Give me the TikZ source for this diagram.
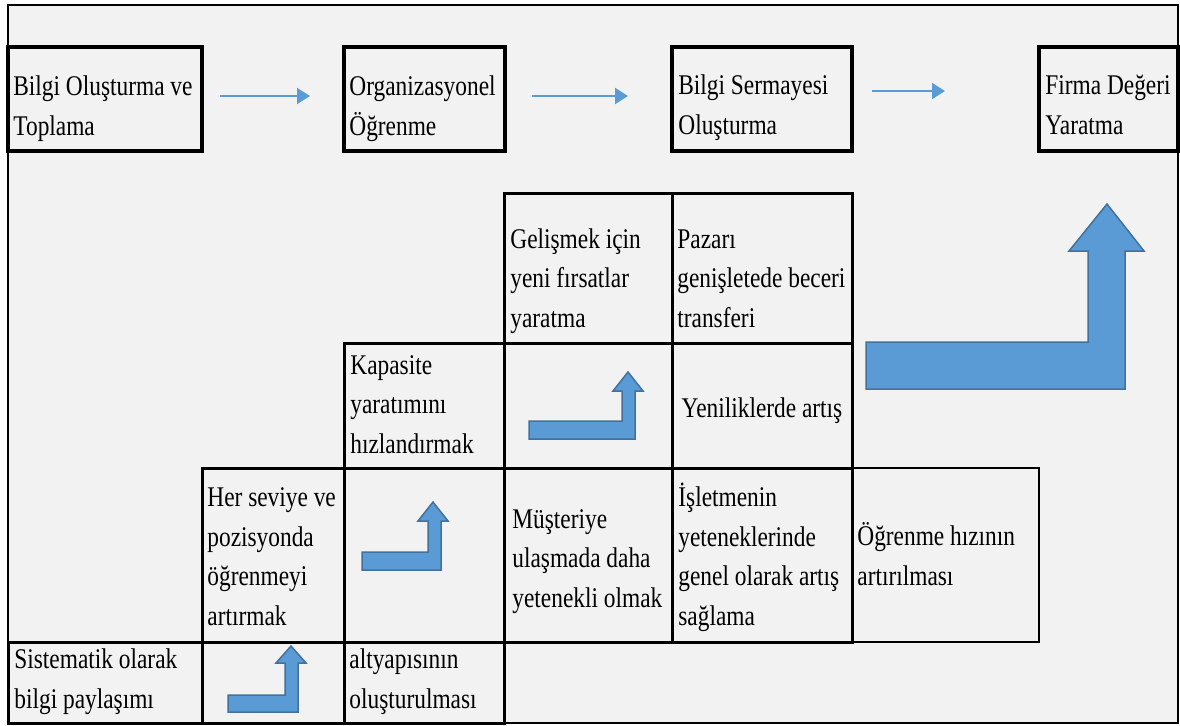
\documentclass[tikz,border=0pt]{standalone}
\usepackage{fontspec}
\setmainfont{Liberation Serif}[FakeStretch=0.82]
\usetikzlibrary{arrows.meta}
\definecolor{panelgray}{HTML}{F2F2F2}
\definecolor{officeblue}{HTML}{5B9BD5}
\definecolor{officeedge}{HTML}{41719C}

\begin{document}
\begin{tikzpicture}[
    x=0.5pt,y=-0.5pt,
    stage_box/.style={draw=black,line width=2pt},
    grid_cell/.style={draw=black,line width=1.5pt},
    thin_cell/.style={draw=black,line width=1.25pt},
    cell_text/.style={anchor=base west,align=left,inner sep=0pt,text=black,
      font=\fontsize{14.25pt}{19.75pt}\selectfont},
    flow_arrow/.style={officeblue,line width=1pt,-{Triangle[length=6.5pt,width=8pt]}},
    bent_arrow/.style={fill=officeblue,draw=officeedge,line width=0.75pt,line join=miter}]
  \useasboundingbox (0,0) rectangle (1180,725);
  \fill[white] (0,0) rectangle (1180,725);
  \draw[line width=1pt,fill=panelgray] (8,5) rectangle (1178,723);
  % top row of stages
  \draw[stage_box] (8,47) rectangle (202,151);
  \draw[stage_box] (344,47) rectangle (505,151);
  \draw[stage_box] (672,47) rectangle (852,151);
  \draw[stage_box] (1039,47) rectangle (1178,151);
  % staircase grid
  \draw[grid_cell] (504,193) rectangle (672,343);
  \draw[grid_cell] (672,193) rectangle (852,343);
  \draw[grid_cell] (344,343) rectangle (504,468);
  \draw[grid_cell] (504,343) rectangle (672,468);
  \draw[grid_cell] (672,343) rectangle (852,468);
  \draw[grid_cell] (202,468) rectangle (344,642);
  \draw[grid_cell] (344,468) rectangle (504,642);
  \draw[grid_cell] (504,468) rectangle (672,642);
  \draw[grid_cell] (672,468) rectangle (852,642);
  \draw[thin_cell] (852,468) rectangle (1039,642);
  \draw[grid_cell] (8,642) rectangle (202,723);
  \draw[grid_cell] (202,642) rectangle (344,723);
  \draw[grid_cell] (344,642) rectangle (504,723);
  % bent arrows
  \draw[bent_arrow] (228,695) -- (285,695) -- (285,663) -- (276,663) -- (291,646)
    -- (306,663) -- (298,663) -- (298,712) -- (228,712) -- cycle;
  \draw[bent_arrow] (362,552) -- (428,552) -- (428,521) -- (418,521) -- (433,502)
    -- (448,521) -- (441,521) -- (441,570) -- (362,570) -- cycle;
  \draw[bent_arrow] (529,421) -- (622,421) -- (622,391) -- (613,391) -- (628,372)
    -- (643,391) -- (635,391) -- (635,439) -- (529,439) -- cycle;
  \draw[bent_arrow] (866,342) -- (1088,342) -- (1088,251) -- (1069,251) -- (1107,204)
    -- (1144,251) -- (1125,251) -- (1125,389) -- (866,389) -- cycle;
  % texts (placed at the baseline of their last line)
\node[cell_text] (stage1) at (13,135) {Bilgi Oluşturma ve\\Toplama};
\node[cell_text] (stage2) at (349,135) {Organizasyonel\\Öğrenme};
\node[cell_text] (stage3) at (678,134) {Bilgi Sermayesi\\Oluşturma};
\node[cell_text] (stage4) at (1045,134) {Firma Değeri\\Yaratma};
\node[cell_text] (gelismek) at (510,327) {Gelişmek için\\yeni fırsatlar\\yaratma};
\node[cell_text] (pazari) at (677,327) {Pazarı\\genişletede beceri\\transferi};
\node[cell_text] (kapasite) at (350,453) {Kapasite\\yaratımını\\hızlandırmak};
\node[cell_text,anchor=base] (yenilik) at (762,417) {Yeniliklerde artış};
\node[cell_text] (seviye) at (207,625) {Her seviye ve\\pozisyonda\\öğrenmeyi\\artırmak};
\node[cell_text] (musteri) at (512,607) {Müşteriye\\ulaşmada daha\\yetenekli olmak};
\node[cell_text] (isletme) at (678,625) {İşletmenin\\yeteneklerinde\\genel olarak artış\\sağlama};
\node[cell_text] (ogrenme) at (857,585) {Öğrenme hızının\\artırılması};
\node[cell_text] (sistematik) at (14,708) {Sistematik olarak\\bilgi paylaşımı};
\node[cell_text] (altyapi) at (349,708) {altyapısının\\oluşturulması};
  % flow between stages
  \coordinate (flow1a) at (220,96);
  \coordinate (flow1b) at (310,96);
  \coordinate (flow2a) at (532,96);
  \coordinate (flow2b) at (628,96);
  \coordinate (flow3a) at (872,91);
  \coordinate (flow3b) at (945,91);
  \draw[flow_arrow] (flow1a) -- (flow1b);
  \draw[flow_arrow] (flow2a) -- (flow2b);
  \draw[flow_arrow] (flow3a) -- (flow3b);
\end{tikzpicture}
\end{document}
